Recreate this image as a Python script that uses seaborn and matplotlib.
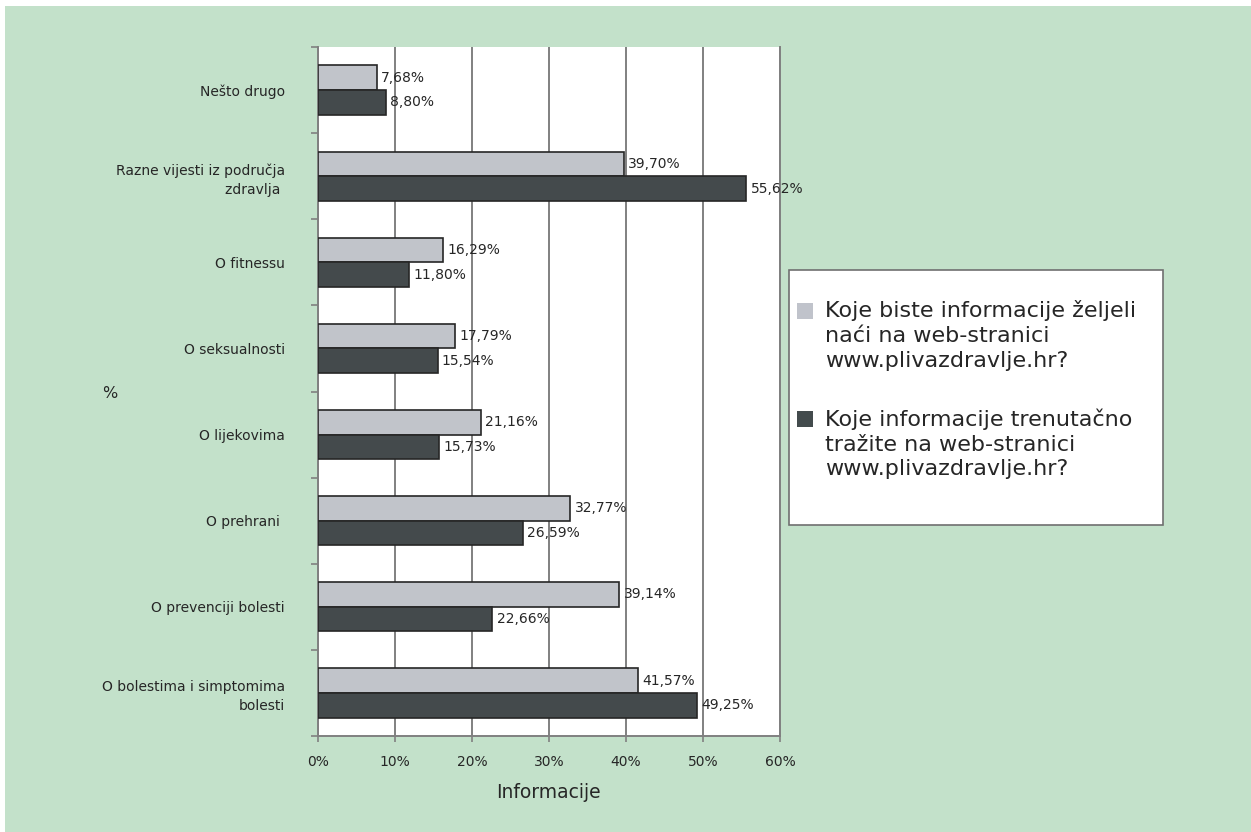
import matplotlib
matplotlib.use("Agg")
import matplotlib.pyplot as plt
import matplotlib.patches as mpatches
from matplotlib.legend_handler import HandlerPatch
import seaborn as sns
import pandas as pd

categories = [
    "Nešto drugo",
    "Razne vijesti iz područja\nzdravlja ",
    "O fitnessu",
    "O seksualnosti",
    "O lijekovima",
    "O prehrani ",
    "O prevenciji bolesti",
    "O bolestima i simptomima\nbolesti",
]
series_names = [
    "Koje biste informacije željeli\nnaći na web-stranici\nwww.plivazdravlje.hr?",
    "Koje informacije trenutačno\ntražite na web-stranici\nwww.plivazdravlje.hr?",
]
wanted = [7.68, 39.70, 16.29, 17.79, 21.16, 32.77, 39.14, 41.57]
current = [8.80, 55.62, 11.80, 15.54, 15.73, 26.59, 22.66, 49.25]
x_ticks = [0, 10, 20, 30, 40, 50, 60]
x_tick_labels = ["0%", "10%", "20%", "30%", "40%", "50%", "60%"]

df = pd.DataFrame({
    "cat": categories * 2,
    "val": wanted + current,
    "series": [series_names[0]] * len(categories) + [series_names[1]] * len(categories),
})

W, H = 1251, 832
TXT = "#262626"
sns.set_theme(style="white")
plt.rcParams["font.family"] = ["DejaVu Sans"]
fig = plt.figure(figsize=(W / 100, H / 100), dpi=100)
fig.patch.set_facecolor("white")
fig.add_artist(mpatches.Rectangle((5 / W, 0), 1, 1 - 6 / H, transform=fig.transFigure,
                                  facecolor="#c3e1ca", edgecolor="none", zorder=-10))

L, R, T, B = 318, 780, 47, 736
ax = fig.add_axes([L / W, 1 - B / H, (R - L) / W, (B - T) / H])
ax.set_facecolor("white")

light, dark = "#c0c3cb", "#434b4d"
sns.barplot(data=df, y="cat", x="val", hue="series", orient="h",
            palette=[light, dark], width=0.573, edgecolor="#262626", linewidth=1.2,
            ax=ax, legend=False, zorder=3)

for cont in ax.containers:
    labs = [f"{b.get_width():.2f}%".replace(".", ",") for b in cont]
    ax.bar_label(cont, labels=labs, padding=3, fontsize=10, color=TXT)

ax.set_xlim(0, 60)
ax.set_ylim(len(categories) - 0.5, -0.5)
ax.set_xticks(x_ticks)
ax.set_xticklabels(x_tick_labels, fontsize=10, color=TXT)
ax.tick_params(axis="x", direction="out", length=4, width=1.2, color="#808080", pad=10, bottom=True)
ax.set_yticks(range(len(categories)))
ax.set_yticklabels(categories, fontsize=10, color=TXT)
for t in ax.get_yticklabels():
    t.set_linespacing(1.45)
ax.tick_params(axis="y", which="major", length=0, pad=24)
ax.set_yticks([i - 0.5 for i in range(len(categories) + 1)], minor=True)
ax.tick_params(axis="y", which="minor", direction="out", length=5, width=1.2, color="#808080", left=True)

ax.grid(axis="x", color="#808080", linewidth=1.4, zorder=0)
ax.set_axisbelow(True)
for s in ["left", "bottom", "right"]:
    ax.spines[s].set_visible(True)
    ax.spines[s].set_color("#808080")
    ax.spines[s].set_linewidth(1.4)
ax.spines["top"].set_visible(False)

ax.set_xlabel("Informacije", fontsize=13.5, color=TXT, va="center")
ax.xaxis.set_label_coords((548 - L) / (R - L), -(792 - B) / (B - T))
ax.set_ylabel("%", rotation=0, fontsize=11.5, color=TXT, ha="center", va="center")
ax.yaxis.set_label_coords((110 - L) / (R - L), (B - 393) / (B - T))

# legend box
fig.add_artist(mpatches.Rectangle((789 / W, 1 - 525 / H), (1163 - 789) / W, (525 - 270) / H,
                                  transform=fig.transFigure, facecolor="white",
                                  edgecolor="#707070", linewidth=1.2, zorder=5))

LEG_FS = 16
LINE_SP = 1.3


class TopHandler(HandlerPatch):
    def create_artists(self, legend, orig_handle, xdescent, ydescent, width, height, fontsize, trans):
        size = 0.72 * fontsize
        shift = 1.12 * fontsize
        p = mpatches.Rectangle((-xdescent, -ydescent + height / 2 - size / 2 + shift), size, size,
                               facecolor=orig_handle.get_facecolor(), edgecolor="none",
                               transform=trans)
        return [p]


handles = [mpatches.Patch(facecolor=light), mpatches.Patch(facecolor=dark)]
leg = fig.legend(handles, series_names, loc="upper left",
                 bbox_to_anchor=(797 / W, 1 - 300 / H), frameon=False,
                 fontsize=LEG_FS, handlelength=0.72, handleheight=0.72, handletextpad=0.55,
                 labelspacing=1.7, borderpad=0, borderaxespad=0,
                 handler_map={mpatches.Patch: TopHandler()})
leg.set_zorder(6)
for t in leg.get_texts():
    t.set_linespacing(LINE_SP)
    t.set_color(TXT)

fig.savefig("out.png", dpi=100)
